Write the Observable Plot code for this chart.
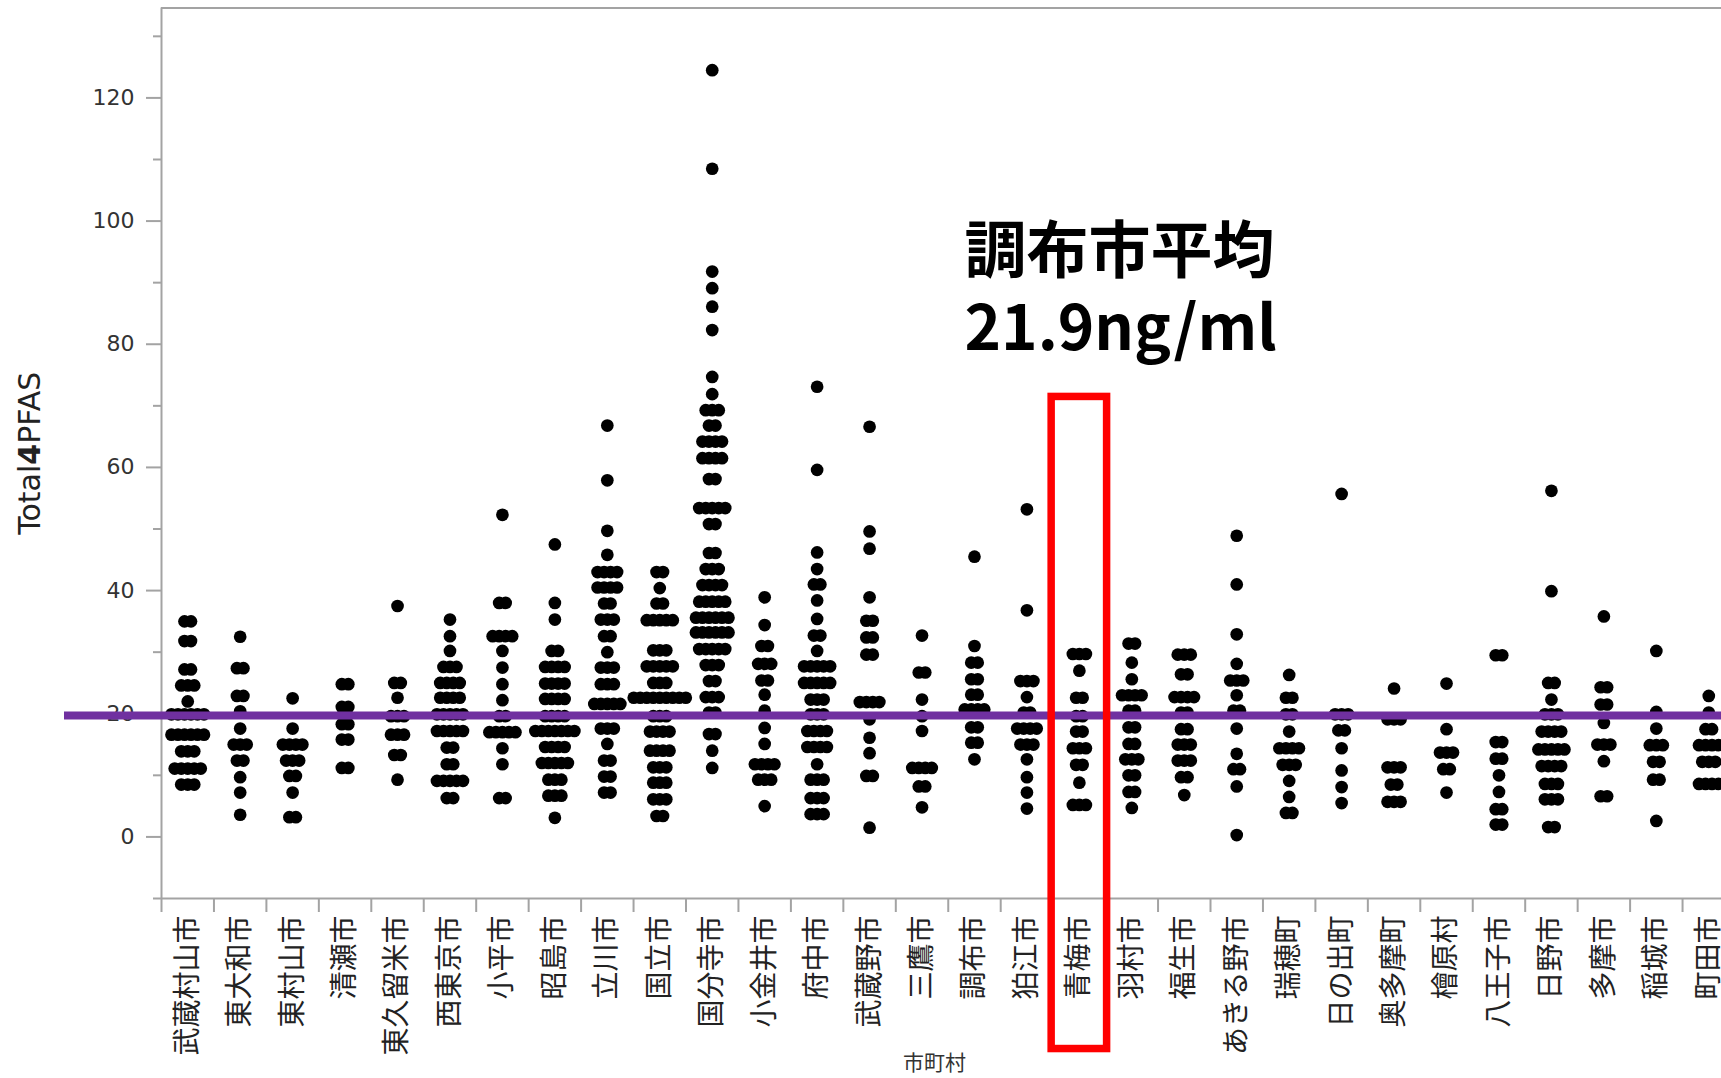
<!DOCTYPE html>
<html>
<head>
<meta charset="utf-8">
<script src="https://cdn.jsdelivr.net/npm/d3@7"></script>
<script src="https://cdn.jsdelivr.net/npm/@observablehq/plot@0.6"></script>
<style>
  html, body { margin: 0; padding: 0; background: #fff; overflow: hidden; width: 1721px; height: 1078px; }
</style>
</head>
<body>
<div id="chart"></div>
<script>
// 市町村 (categories, left to right)
const categories = ["武蔵村山市","東大和市","東村山市","清瀬市","東久留米市","西東京市","小平市","昭島市","立川市","国立市",
  "国分寺市","小金井市","府中市","武蔵野市","三鷹市","調布市","狛江市","青梅市","羽村市","福生市",
  "あきる野市","瑞穂町","日の出町","奥多摩町","檜原村","八王子市","日野市","多摩市","稲城市","町田市"];

// Total4PFAS readings per 市町村: [value, number of samples at that value]
const samples = [
  /* 武蔵村山市 */ [[35.0,2],[31.8,2],[27.2,2],[24.6,3],[22.0,1],[19.9,6],[16.6,6],[13.9,3],[11.1,5],[8.5,3]],
  /* 東大和市 */ [[32.5,1],[27.4,2],[22.9,2],[20.4,1],[17.6,1],[15.0,3],[12.4,2],[9.7,1],[7.2,1],[3.6,1]],
  /* 東村山市 */ [[22.5,1],[17.6,1],[15.0,4],[12.4,3],[9.9,2],[7.2,1],[3.2,2]],
  /* 清瀬市 */ [[24.8,2],[21.1,2],[18.3,2],[15.8,2],[11.2,2]],
  /* 東久留米市 */ [[37.5,1],[25.0,2],[22.6,1],[19.6,3],[16.6,3],[13.3,2],[9.3,1]],
  /* 西東京市 */ [[35.3,1],[32.6,1],[30.2,1],[27.6,3],[25.0,4],[22.6,4],[19.9,5],[17.2,5],[14.5,2],[11.8,2],[9.1,5],[6.3,2]],
  /* 小平市 */ [[52.3,1],[38.0,2],[32.6,4],[30.2,1],[27.5,1],[24.8,1],[22.2,1],[19.6,2],[17.0,5],[14.4,1],[11.8,1],[6.3,2]],
  /* 昭島市 */ [[47.5,1],[38.0,1],[35.3,1],[30.2,2],[27.6,4],[24.9,4],[22.4,4],[19.6,4],[17.2,7],[14.6,4],[12.0,5],[9.3,3],[6.7,3],[3.1,1]],
  /* 立川市 */ [[66.8,1],[57.9,1],[49.7,1],[45.8,1],[43.0,4],[40.5,4],[37.9,2],[35.3,3],[32.6,2],[30.0,1],[27.5,3],[24.8,3],[21.6,5],[17.6,3],[15.1,1],[12.4,2],[9.8,2],[7.2,2]],
  /* 国立市 */ [[43.0,2],[40.4,1],[37.9,2],[35.2,5],[30.3,3],[27.7,5],[25.0,3],[22.6,9],[19.6,3],[17.1,4],[14.0,4],[11.3,3],[8.8,3],[6.1,3],[3.4,2]],
  /* 国分寺市 */ [[124.5,1],[108.5,1],[91.8,1],[89.1,1],[86.1,1],[82.3,1],[74.7,1],[71.9,1],[69.3,3],[66.8,2],[64.2,4],[61.5,4],[58.1,2],[53.4,5],[50.8,2],[46.1,2],[43.5,3],[40.9,4],[38.2,5],[35.6,6],[33.2,6],[30.5,5],[27.9,3],[25.3,2],[22.7,3],[20.2,2],[16.7,2],[14.0,1],[11.2,1]],
  /* 小金井市 */ [[38.9,1],[34.4,1],[31.0,2],[28.1,3],[25.4,2],[23.1,1],[20.5,1],[17.7,1],[15.1,1],[11.8,4],[9.3,3],[5.0,1]],
  /* 府中市 */ [[73.1,1],[59.6,1],[46.2,1],[43.5,1],[41.0,2],[38.4,1],[35.4,1],[32.7,2],[30.2,1],[27.7,5],[25.0,5],[22.3,3],[19.9,3],[17.2,4],[14.6,4],[11.8,1],[9.3,3],[6.3,3],[3.7,3]],
  /* 武蔵野市 */ [[66.6,1],[49.6,1],[46.8,1],[38.9,1],[35.1,2],[32.4,2],[29.6,2],[21.9,4],[19.1,1],[16.1,1],[13.6,1],[9.9,2],[1.5,1]],
  /* 三鷹市 */ [[32.7,1],[26.7,2],[22.3,1],[19.6,1],[17.2,1],[11.2,4],[8.2,2],[4.8,1]],
  /* 調布市 */ [[45.5,1],[31.0,1],[28.3,2],[25.6,2],[23.1,2],[20.7,4],[17.8,2],[15.3,2],[12.6,1]],
  /* 狛江市 */ [[53.2,1],[36.8,1],[25.3,3],[22.7,1],[20.2,2],[17.6,4],[15.0,3],[12.6,1],[9.7,1],[7.2,1],[4.6,1]],
  /* 青梅市 */ [[29.7,3],[27.0,1],[22.6,2],[19.6,2],[17.1,2],[14.4,3],[11.7,2],[8.8,1],[5.2,3]],
  /* 羽村市 */ [[31.4,2],[28.3,1],[25.6,1],[23.0,4],[20.5,2],[17.8,2],[15.1,2],[12.6,3],[10.0,2],[7.3,2],[4.7,1]],
  /* 福生市 */ [[29.6,3],[26.4,2],[22.7,4],[20.2,2],[17.5,2],[15.0,3],[12.4,3],[9.7,2],[6.8,1]],
  /* あきる野市 */ [[48.9,1],[41.0,1],[32.9,1],[28.1,1],[25.4,3],[23.0,1],[20.5,2],[17.6,1],[13.5,1],[11.0,2],[8.2,1],[0.3,1]],
  /* 瑞穂町 */ [[26.3,1],[22.6,2],[19.9,2],[17.1,1],[14.4,4],[11.7,3],[9.1,1],[6.5,1],[3.9,2]],
  /* 日の出町 */ [[55.7,1],[19.9,3],[17.3,2],[14.4,1],[10.8,1],[8.1,1],[5.5,1]],
  /* 奥多摩町 */ [[24.1,1],[19.1,3],[11.3,3],[8.5,2],[5.7,3]],
  /* 檜原村 */ [[24.9,1],[17.5,1],[13.7,3],[11.0,2],[7.2,1]],
  /* 八王子市 */ [[29.5,2],[15.4,2],[12.7,2],[10.0,1],[7.3,1],[4.5,2],[2.0,2]],
  /* 日野市 */ [[56.2,1],[39.9,1],[25.0,2],[22.3,1],[19.9,3],[17.1,4],[14.2,5],[11.5,4],[8.6,3],[6.1,3],[1.6,2]],
  /* 多摩市 */ [[35.8,1],[24.3,2],[21.5,2],[18.5,1],[15.0,3],[12.3,1],[6.6,2]],
  /* 稲城市 */ [[30.2,1],[20.3,1],[17.6,1],[14.9,3],[12.2,2],[9.3,2],[2.6,1]],
  /* 町田市 */ [[22.9,1],[20.2,1],[17.5,2],[14.9,4],[12.2,3],[8.6,4]]
];

// axis ticks
const yTicks = [0, 20, 40, 60, 80, 100, 120];
const yMinorTicks = [-10, 10, 30, 50, 70, 90, 110, 130];
const yDomain = [-10, 134.6];

// annotation
const meanValue = 19.7;                 // purple reference line
const annotationText = "調布市平均\n21.9ng/ml";
const annotationY = 89.3;
const annotationAnchor = "調布市";
const highlightName = "青梅市";
const highlightRange = [-34.2, 71.2];   // extent of the red box in axis units

// ---- build the point table (stack samples sharing a value side by side) ----
const dotSpacing = 0.124; // horizontal offset between stacked dots, in category widths
const points = [];
samples.forEach((rows, i) => {
  rows.forEach(([v, n]) => {
    for (let k = 0; k < n; k++) {
      points.push({ name: categories[i], x: i + 0.5 + (k - (n - 1) / 2) * dotSpacing, y: v });
    }
  });
});

const cjk = "'Noto Sans CJK JP', 'Noto Sans CJK SC', sans-serif";
const latin = "'DejaVu Sans', Verdana, sans-serif";
const gray = "#a3a3a3";
const W = 1721, H = 1078, ML = 161, MT = 7.5, MB = 180;
const bandPx = 52.45;
const xMax = (W - ML) / bandPx;

const hi = categories.indexOf(highlightName);
const an = categories.indexOf(annotationAnchor);

const chart = Plot.plot({
  width: W, height: H,
  marginLeft: ML, marginRight: 0, marginTop: MT, marginBottom: MB,
  x: { domain: [0, xMax], axis: null },
  y: { domain: yDomain, axis: null },
  style: { background: "#fff", fontFamily: latin, overflow: "hidden" },
  marks: [
    // frame lines
    Plot.ruleY([yDomain[1]], { stroke: gray, strokeWidth: 2 }),
    Plot.ruleY([yDomain[0]], { stroke: gray, strokeWidth: 2 }),
    Plot.ruleX([0], { stroke: gray, strokeWidth: 2 }),
    // y axis
    Plot.axisY(yTicks, { anchor: "left", tickSize: 15, tickPadding: 12, fontSize: 22, stroke: gray, strokeWidth: 2, fill: "#333", label: null }),
    Plot.axisY(yMinorTicks, { anchor: "left", tickSize: 8, stroke: gray, strokeWidth: 2, fill: "none", label: null }),
    // x axis: ticks on category boundaries, names in the middle
    Plot.axisX(d3.range(0, categories.length), { anchor: "bottom", tickSize: 14, stroke: gray, strokeWidth: 2, fill: "none", label: null }),
    Plot.axisX(d3.range(categories.length).map(i => i + 0.5), {
      anchor: "bottom", tickSize: 0, tickPadding: 17, tickRotate: -90,
      tickFormat: d => categories[Math.floor(d)], fontSize: 28, fontFamily: cjk, fill: "#222", label: null
    }),
    // samples
    Plot.dot(points, { x: "x", y: "y", r: 6.35, fill: "#000" }),
    // mean line
    Plot.ruleY([meanValue], { stroke: "#7030A0", strokeWidth: 8, insetLeft: -97 }),
    // highlight box
    Plot.rect([{ x1: hi, x2: hi + 1, y1: highlightRange[0], y2: highlightRange[1] }], {
      x1: "x1", x2: "x2", y1: "y1", y2: "y2", fill: "none", stroke: "#FF0000", strokeWidth: 7.5, inset: -1.5
    }),
    // annotation text (two lines)
    Plot.text([annotationText], { x: an + 0.5, y: annotationY, dx: -10, text: d => d, textAnchor: "start", lineAnchor: "middle", lineHeight: 1.23, fontSize: 62, fontWeight: "bold", fontFamily: cjk, fill: "#000" }),
    // axis titles
    Plot.text(["Total4PFAS"], { frameAnchor: "left", rotate: -90, dx: -131, dy: 0, text: d => d, textAnchor: "middle", lineAnchor: "middle", fontSize: 30, fill: "#222", fontFamily: latin }),
    Plot.text(["市町村"], { frameAnchor: "bottom", dx: -7, dy: 165, text: d => d, textAnchor: "middle", lineAnchor: "middle", fontSize: 21, fill: "#333", fontFamily: cjk })
  ]
});

// heavy "4" in the y-axis title, as in the reference
chart.querySelectorAll("text").forEach(t => {
  if (t.textContent === "Total4PFAS") {
    t.textContent = "";
    const ns = "http://www.w3.org/2000/svg";
    ["Total", "4", "PFAS"].forEach(s => {
      const ts = document.createElementNS(ns, "tspan");
      ts.textContent = s;
      if (s === "4") ts.setAttribute("font-weight", "900");
      t.appendChild(ts);
    });
  }
});

document.getElementById("chart").appendChild(chart);
</script>
</body>
</html>
